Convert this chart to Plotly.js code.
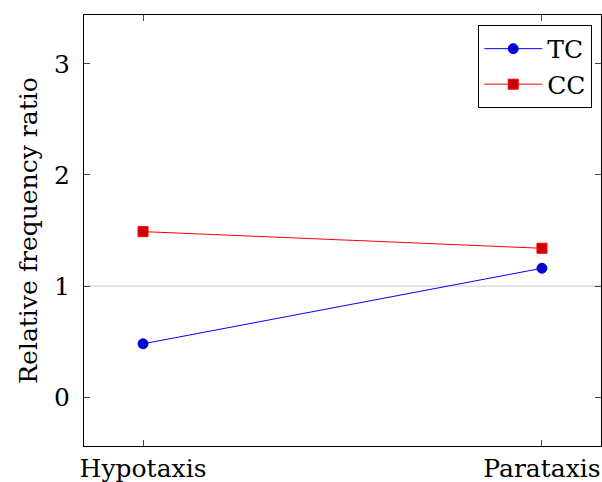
<!DOCTYPE html>
<html>
<head>
<meta charset="utf-8">
<script src="https://cdn.plot.ly/plotly-3.0.1.min.js"></script>
<style>html,body{margin:0;padding:0;background:#fff;}#chart{width:602px;height:482px;}</style>
</head>
<body>
<div id="chart"></div>
<script>
const categories = ["Hypotaxis", "Parataxis"];
const tcValues = [0.48, 1.16];
const ccValues = [1.49, 1.34];
const yTickVals = [0, 1, 2, 3];
const yTickText = ["0", "1", "2", "3"];
const seriesNames = ["TC", "CC"];

const xIdx = categories.map((_, i) => i);
const font = {family: "DejaVu Serif", size: 25, color: "#000"};

const traces = [
  {
    x: xIdx, y: tcValues, name: seriesNames[0], type: "scatter", mode: "lines+markers",
    line: {color: "rgb(0,0,255)", width: 1},
    marker: {symbol: "circle", size: 10, color: "rgb(0,0,204)", line: {color: "rgb(0,0,255)", width: 1}}
  },
  {
    x: xIdx, y: ccValues, name: seriesNames[1], type: "scatter", mode: "lines+markers",
    line: {color: "rgb(255,0,0)", width: 1},
    marker: {symbol: "square", size: 10, color: "rgb(204,0,0)", line: {color: "rgb(255,0,0)", width: 1}}
  }
];

const layout = {
  width: 602, height: 482,
  margin: {l: 84, r: 1, t: 15, b: 36},
  paper_bgcolor: "#fff", plot_bgcolor: "#fff",
  font: font,
  showlegend: true,
  legend: {
    x: 0.983, y: 0.977, xanchor: "right", yanchor: "top",
    bgcolor: "#fff", bordercolor: "#000", borderwidth: 1,
    font: font, tracegroupgap: 0, itemwidth: 58
  },
  xaxis: {
    range: [-0.148, 1.148],
    tickvals: xIdx, ticktext: categories,
    ticks: "inside", ticklen: 6, tickcolor: "#444", tickwidth: 1,
    showline: true, linecolor: "#000", linewidth: 1, mirror: "ticks",
    showgrid: false, zeroline: false, tickfont: font, fixedrange: true
  },
  yaxis: {
    range: [-0.44, 3.44],
    tickvals: yTickVals, ticktext: yTickText,
    ticks: "inside", ticklen: 6, tickcolor: "#444", tickwidth: 1,
    showline: true, linecolor: "#000", linewidth: 1, mirror: "ticks",
    showgrid: false, zeroline: false, tickfont: font, ticklabelstandoff: 8,
    title: {text: "Relative frequency ratio", font: font, standoff: 9}
  },
  shapes: [{
    type: "line", xref: "paper", yref: "y", x0: 0, x1: 1, y0: 1, y1: 1,
    line: {color: "rgb(200,200,200)", width: 1}, layer: "below"
  }]
};

Plotly.newPlot("chart", traces, layout, {displayModeBar: false, staticPlot: true});
</script>
</body>
</html>
